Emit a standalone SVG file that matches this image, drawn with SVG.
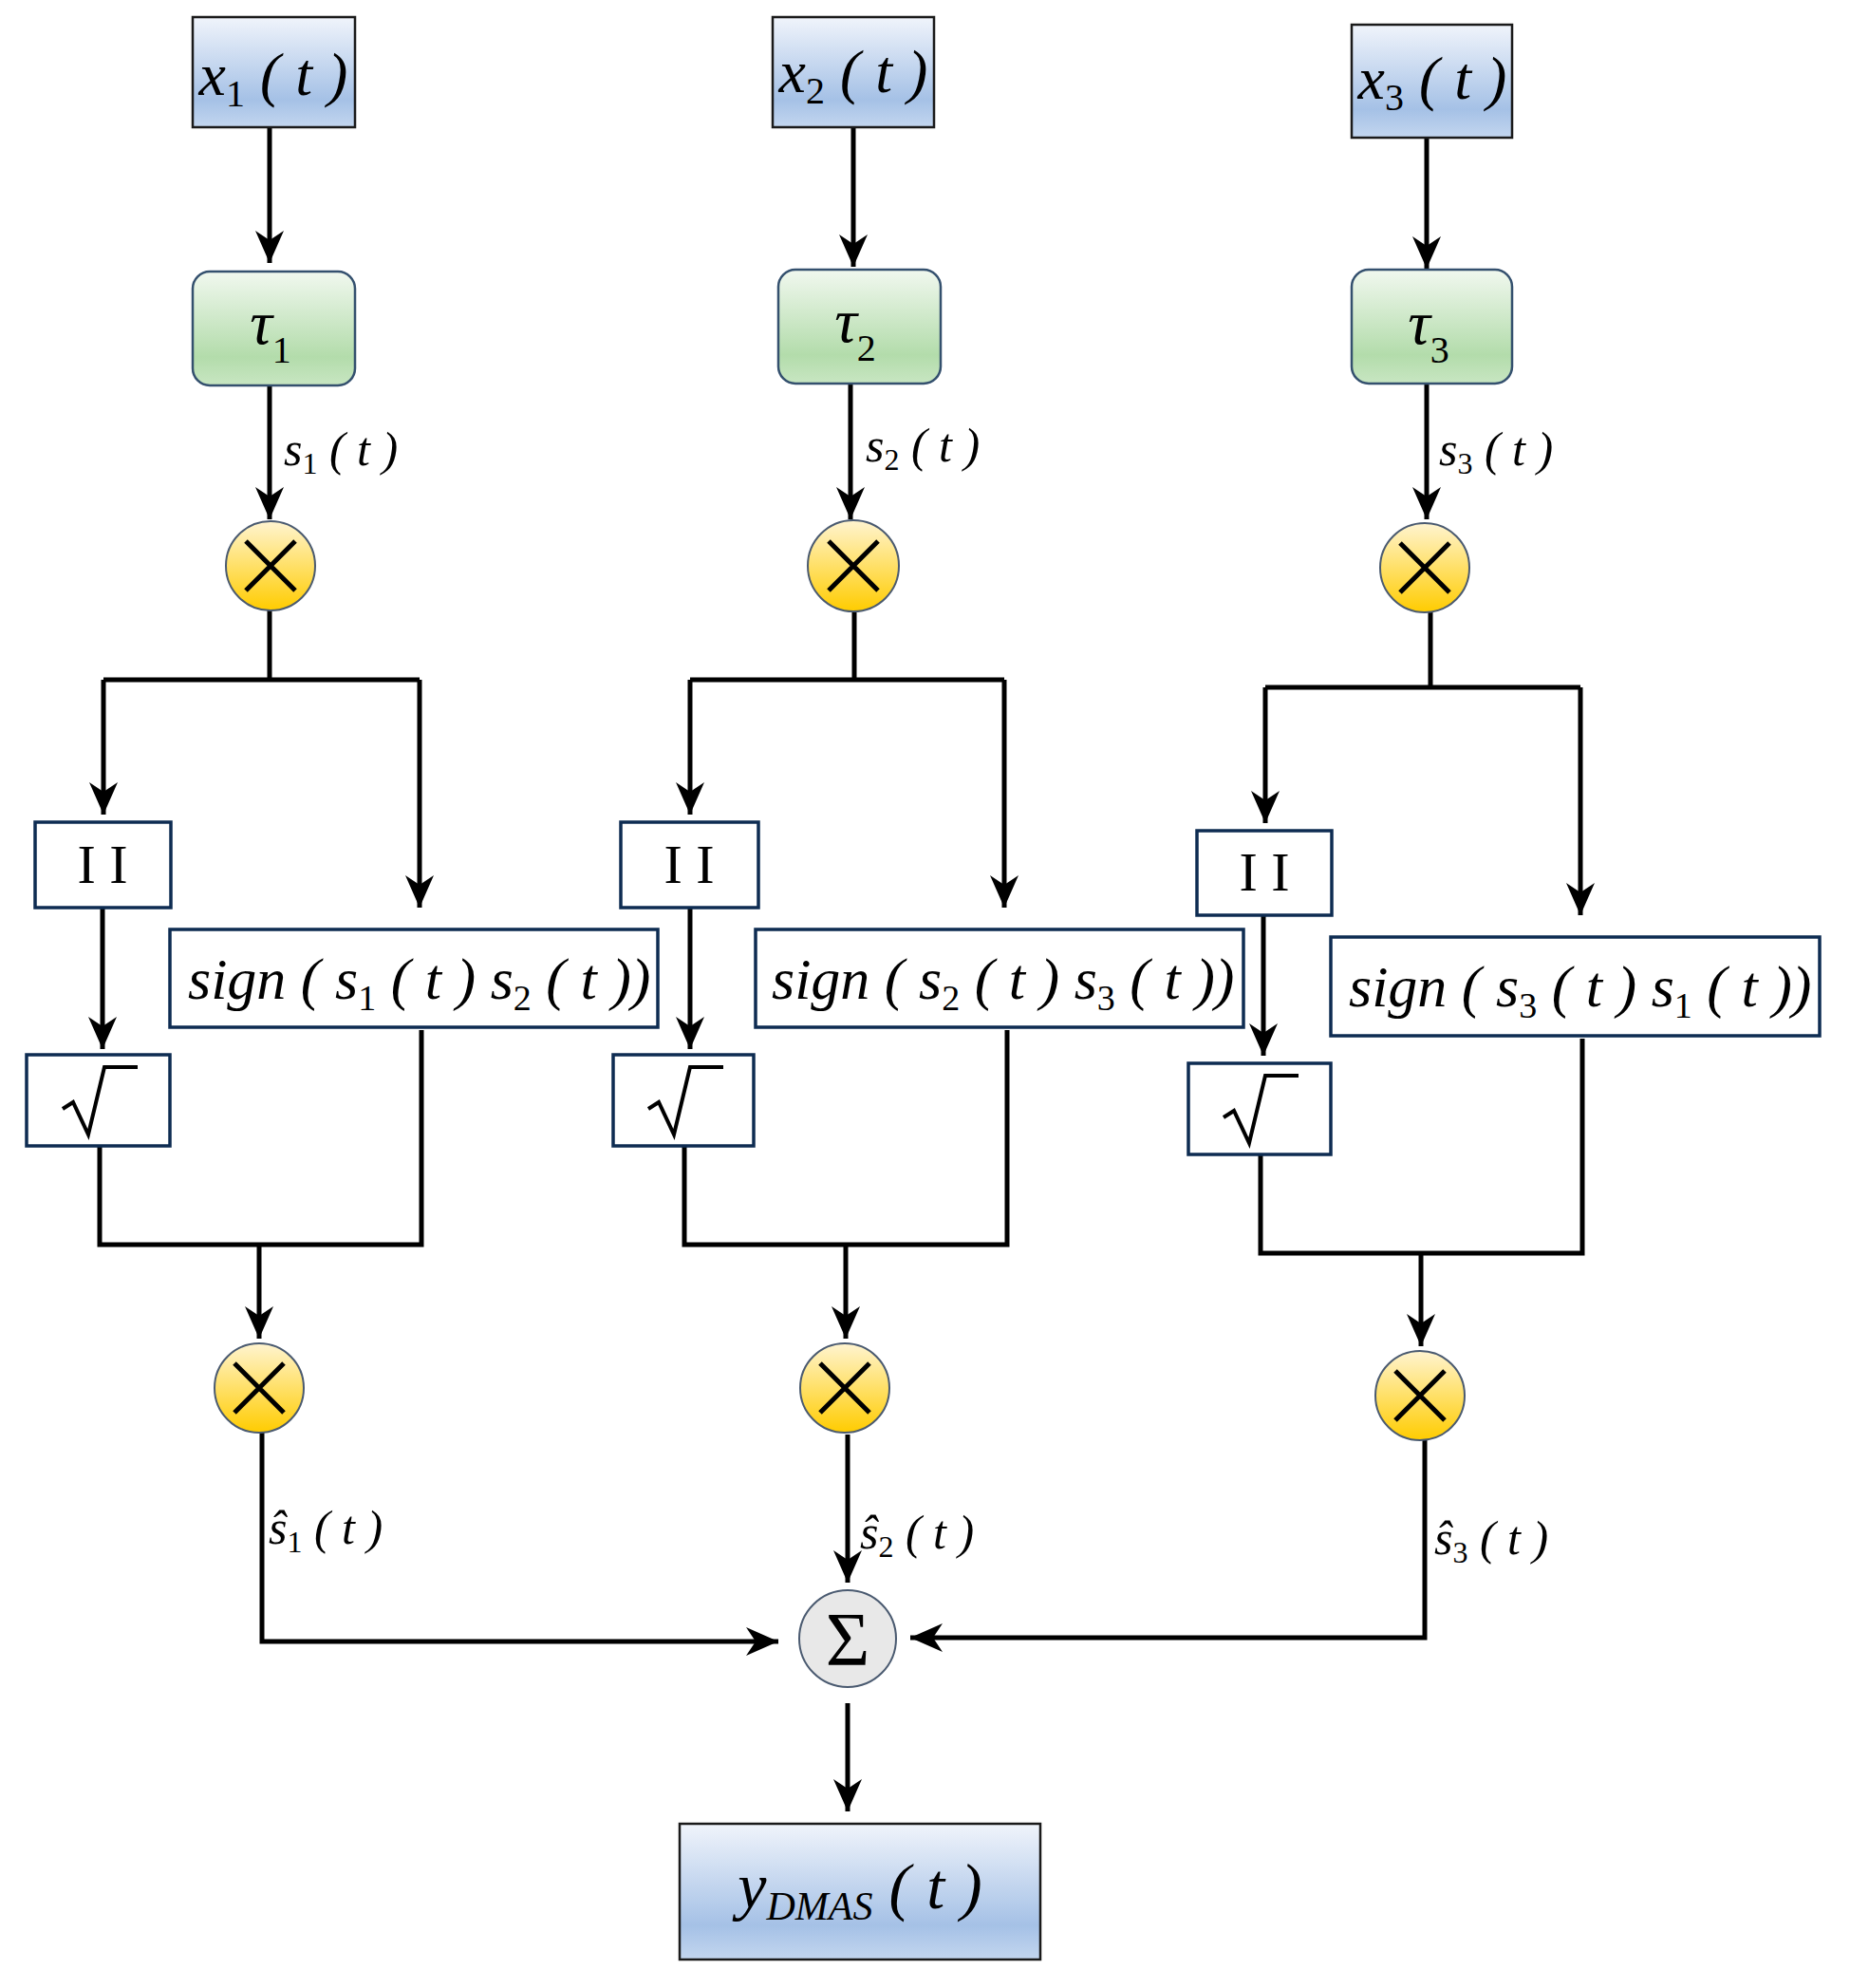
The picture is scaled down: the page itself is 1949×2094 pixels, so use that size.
<svg xmlns="http://www.w3.org/2000/svg" width="1949" height="2094" viewBox="0 0 1949 2094">
<defs>
<linearGradient id="gb" x1="0" y1="0" x2="0" y2="1"><stop offset="0" stop-color="#f0f4fb"/><stop offset="0.75" stop-color="#a5c1e6"/><stop offset="1" stop-color="#c3d6ef"/></linearGradient>
<linearGradient id="gg" x1="0" y1="0" x2="0" y2="1"><stop offset="0" stop-color="#f1f8ef"/><stop offset="0.75" stop-color="#b3dcab"/><stop offset="1" stop-color="#c8e6c2"/></linearGradient>
<linearGradient id="gy" x1="0" y1="0" x2="0" y2="1"><stop offset="0" stop-color="#fff4d0"/><stop offset="1" stop-color="#ffcc00"/></linearGradient>
<marker id="ar" markerUnits="userSpaceOnUse" markerWidth="34" markerHeight="34" viewBox="0 0 34 34" refX="34" refY="17" orient="auto"><path d="M0,2 L34,17 L0,32 L10,17 z" fill="#000"/></marker>
<style>
.ln{fill:none;stroke:#000;stroke-width:5}
.ar{marker-end:url(#ar)}
.bb{fill:url(#gb);stroke:#1a1a1a;stroke-width:2.5}
.gb{fill:url(#gg);stroke:#34506e;stroke-width:2.5}
.wb{fill:#fff;stroke:#0e2c52;stroke-width:3.5}
.yc{fill:url(#gy);stroke:#4a5a70;stroke-width:2}
.sc{fill:#e8e8e8;stroke:#4a5a70;stroke-width:2}
.cx{stroke:#000;stroke-width:5}
.m{font-family:"Liberation Serif","DejaVu Serif",serif;font-style:italic;fill:#000}
.u{font-family:"Liberation Serif","DejaVu Serif",serif;fill:#000}
.sub{font-style:normal}
</style>
</defs>
<g id="connectors">
<path class="ln ar" d="M284,134 V277"/>
<path class="ln ar" d="M284,406 V547"/>
<path class="ln" d="M284,643 V716 M109,716 H442"/>
<path class="ln ar" d="M109,716 V858"/>
<path class="ln ar" d="M442,716 V956"/>
<path class="ln ar" d="M108,956 V1105"/>
<path class="ln" d="M105,1207 V1311 H444 V1085"/>
<path class="ln ar" d="M273,1311 V1410"/>
<path class="ln ar" d="M276,1509 V1729 H820"/>

<path class="ln ar" d="M899,134 V281"/>
<path class="ln ar" d="M896,404 V547"/>
<path class="ln" d="M900,644 V716 M727,716 H1058"/>
<path class="ln ar" d="M727,716 V858"/>
<path class="ln ar" d="M1058,716 V956"/>
<path class="ln ar" d="M727,956 V1105"/>
<path class="ln" d="M721,1207 V1311 H1061 V1085"/>
<path class="ln ar" d="M891,1311 V1410"/>
<path class="ln ar" d="M893,1511 V1667"/>

<path class="ln ar" d="M1503,145 V283"/>
<path class="ln ar" d="M1503,404 V547"/>
<path class="ln" d="M1507,645 V724 M1333,724 H1665"/>
<path class="ln ar" d="M1333,724 V867"/>
<path class="ln ar" d="M1665,724 V964"/>
<path class="ln ar" d="M1331,964 V1112"/>
<path class="ln" d="M1328,1216 V1320 H1667 V1094"/>
<path class="ln ar" d="M1497,1320 V1418"/>
<path class="ln ar" d="M1501,1517 V1725 H959"/>

<path class="ln ar" d="M893,1794 V1908"/>
</g>

<g id="x1"><rect class="bb" x="203" y="18" width="171" height="116"/><text class="m" x="288" y="100" font-size="64" text-anchor="middle">x<tspan class="sub" font-size="40" dy="12">1</tspan><tspan dy="-12"> ( t )</tspan></text></g>
<g id="x2"><rect class="bb" x="814" y="18" width="170" height="116"/><text class="m" x="899" y="97" font-size="64" text-anchor="middle">x<tspan class="sub" font-size="40" dy="12">2</tspan><tspan dy="-12"> ( t )</tspan></text></g>
<g id="x3"><rect class="bb" x="1424" y="26" width="169" height="119"/><text class="m" x="1509" y="104" font-size="64" text-anchor="middle">x<tspan class="sub" font-size="40" dy="12">3</tspan><tspan dy="-12"> ( t )</tspan></text></g>

<g id="tau1"><rect class="gb" x="203" y="286" width="171" height="120" rx="18"/><text class="m" x="285" y="362" font-size="66" text-anchor="middle">τ<tspan class="sub" font-size="40" dy="20">1</tspan></text></g>
<g id="tau2"><rect class="gb" x="820" y="284" width="171" height="120" rx="18"/><text class="m" x="901" y="360" font-size="66" text-anchor="middle">τ<tspan class="sub" font-size="40" dy="20">2</tspan></text></g>
<g id="tau3"><rect class="gb" x="1424" y="284" width="169" height="120" rx="18"/><text class="m" x="1505" y="362" font-size="66" text-anchor="middle">τ<tspan class="sub" font-size="40" dy="20">3</tspan></text></g>

<g id="lbl-s1"><text class="m" x="299" y="490" font-size="50">s<tspan class="sub" font-size="32" dy="9">1</tspan><tspan dy="-9"> ( t )</tspan></text></g>
<g id="lbl-s2"><text class="m" x="912" y="486" font-size="50">s<tspan class="sub" font-size="32" dy="9">2</tspan><tspan dy="-9"> ( t )</tspan></text></g>
<g id="lbl-s3"><text class="m" x="1516" y="490" font-size="50">s<tspan class="sub" font-size="32" dy="9">3</tspan><tspan dy="-9"> ( t )</tspan></text></g>

<g id="mul1a"><circle class="yc" cx="285" cy="596" r="47"/><path class="cx" d="M259,570 L311,622 M311,570 L259,622"/></g>
<g id="mul2a"><circle class="yc" cx="899" cy="596" r="48"/><path class="cx" d="M873,570 L925,622 M925,570 L873,622"/></g>
<g id="mul3a"><circle class="yc" cx="1501" cy="598" r="47"/><path class="cx" d="M1475,572 L1527,624 M1527,572 L1475,624"/></g>

<g id="abs1"><rect class="wb" x="37" y="866" width="143" height="90"/><text class="u" x="108" y="930" font-size="58" text-anchor="middle">I I</text></g>
<g id="abs2"><rect class="wb" x="654" y="866" width="145" height="90"/><text class="u" x="726" y="930" font-size="58" text-anchor="middle">I I</text></g>
<g id="abs3"><rect class="wb" x="1261" y="875" width="142" height="89"/><text class="u" x="1332" y="938" font-size="58" text-anchor="middle">I I</text></g>

<g id="sqrt1"><rect class="wb" x="28" y="1111" width="151" height="96"/><path d="M66,1168 L77,1161 L93,1195 L110,1124 H145" fill="none" stroke="#000" stroke-width="4"/></g>
<g id="sqrt2"><rect class="wb" x="646" y="1111" width="148" height="96"/><path d="M683,1168 L694,1161 L710,1195 L727,1124 H762" fill="none" stroke="#000" stroke-width="4"/></g>
<g id="sqrt3"><rect class="wb" x="1252" y="1120" width="150" height="96"/><path d="M1289,1177 L1300,1170 L1316,1204 L1333,1133 H1368" fill="none" stroke="#000" stroke-width="4"/></g>

<g id="sign1"><rect class="wb" x="179" y="979" width="514" height="103"/><text class="m" x="198" y="1052" font-size="62">sign ( s<tspan class="sub" font-size="38" dy="12">1</tspan><tspan dy="-12"> ( t ) s</tspan><tspan class="sub" font-size="38" dy="12">2</tspan><tspan dy="-12"> ( t ))</tspan></text></g>
<g id="sign2"><rect class="wb" x="796" y="979" width="514" height="103"/><text class="m" x="813" y="1052" font-size="62">sign ( s<tspan class="sub" font-size="38" dy="12">2</tspan><tspan dy="-12"> ( t ) s</tspan><tspan class="sub" font-size="38" dy="12">3</tspan><tspan dy="-12"> ( t ))</tspan></text></g>
<g id="sign3"><rect class="wb" x="1402" y="987" width="515" height="104"/><text class="m" x="1421" y="1060" font-size="62">sign ( s<tspan class="sub" font-size="38" dy="12">3</tspan><tspan dy="-12"> ( t ) s</tspan><tspan class="sub" font-size="38" dy="12">1</tspan><tspan dy="-12"> ( t ))</tspan></text></g>

<g id="mul1b"><circle class="yc" cx="273" cy="1462" r="47"/><path class="cx" d="M247,1436 L299,1488 M299,1436 L247,1488"/></g>
<g id="mul2b"><circle class="yc" cx="890" cy="1462" r="47"/><path class="cx" d="M864,1436 L916,1488 M916,1436 L864,1488"/></g>
<g id="mul3b"><circle class="yc" cx="1496" cy="1470" r="47"/><path class="cx" d="M1470,1444 L1522,1496 M1522,1444 L1470,1496"/></g>

<g id="lbl-sh1"><text class="m" x="283" y="1626" font-size="50">ŝ<tspan class="sub" font-size="32" dy="9">1</tspan><tspan dy="-9"> ( t )</tspan></text></g>
<g id="lbl-sh2"><text class="m" x="906" y="1631" font-size="50">ŝ<tspan class="sub" font-size="32" dy="9">2</tspan><tspan dy="-9"> ( t )</tspan></text></g>
<g id="lbl-sh3"><text class="m" x="1511" y="1637" font-size="50">ŝ<tspan class="sub" font-size="32" dy="9">3</tspan><tspan dy="-9"> ( t )</tspan></text></g>

<g id="sum"><circle class="sc" cx="893" cy="1726" r="51"/><text class="u" x="893" y="1754" font-size="80" text-anchor="middle">Σ</text></g>

<g id="out"><rect class="bb" x="716" y="1921" width="380" height="143"/><text class="m" x="906" y="2010" font-size="68" text-anchor="middle">y<tspan font-size="42" dy="12">DMAS</tspan><tspan dy="-12"> ( t )</tspan></text></g>
</svg>
